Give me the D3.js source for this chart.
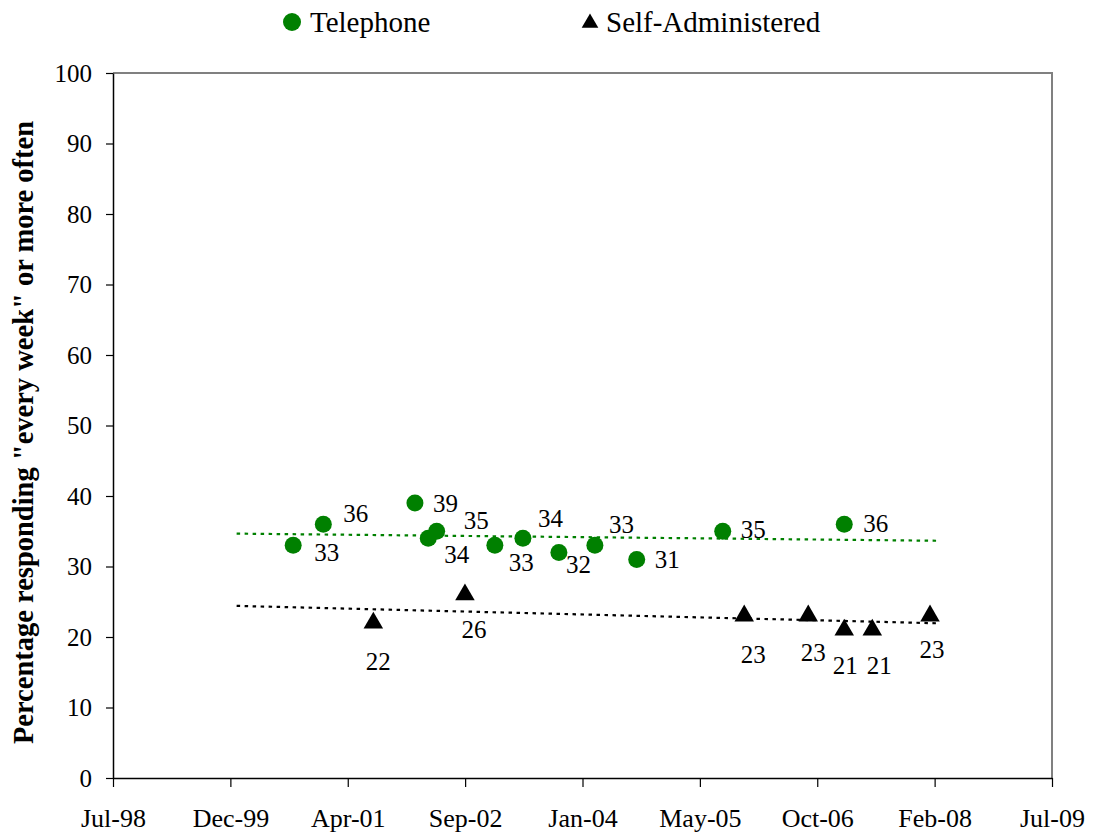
<!DOCTYPE html>
<html>
<head>
<meta charset="utf-8">
<script src="https://cdn.jsdelivr.net/npm/d3@7"></script>
<style>
  html, body { margin: 0; padding: 0; background: #fff; }
  svg { display: block; }
  svg text { font-family: "Liberation Serif", "Times New Roman", Times, "DejaVu Serif", serif !important; fill: #000; }
</style>
</head>
<body>
<svg id="chart" width="1093" height="833"></svg>
<script>
// Survey results: share answering "every week" or more often, by survey mode
const telephoneDates  = ["2000-08-10","2000-12-17","2002-01-13","2002-03-11","2002-04-16","2002-12-21",
                         "2003-04-20","2003-09-21","2004-02-22","2004-08-19","2005-08-22","2007-01-24"];
const telephoneValues = [33, 36, 39, 34, 35, 33, 34, 32, 33, 31, 35, 36];

const selfAdminDates  = ["2001-07-19","2002-08-15","2005-11-22","2006-08-23","2007-01-24","2007-05-24","2008-01-26"];
const selfAdminValues = [22, 26, 23, 23, 21, 21, 23];

// Axis tick labels (evenly spaced date axis) and the extent of the fitted trend lines
const xTickLabels = ["Jul-98","Dec-99","Apr-01","Sep-02","Jan-04","May-05","Oct-06","Feb-08","Jul-09"];
const yTickValues = [0, 10, 20, 30, 40, 50, 60, 70, 80, 90, 100];
const trendRange  = ["1999-12-12", "2008-02-24"];

// Label placement for each point (offset from the marker)
const telephoneLabelOffsets = [[21,16],[20,-2],[18,9],[16,25],[27,-2],[14,26],[15,-11],[7,21],[14,-12],[18,9],[18,7],[19,8]];
const selfAdminLabelOffsets = [[5,47],[9,43],[9,47],[5,45],[1,44],[7,44],[2,42]];

const parse = d3.timeParse("%Y-%m-%d");
const svg = d3.select("#chart");
const serif = '"Liberation Serif", "Times New Roman", Times, "DejaVu Serif", serif';

const plotLeft = 113, plotRight = 1052, plotTop = 73, plotBottom = 778;
const x = d3.scaleTime()
  .domain([new Date(1998, 6, 1), new Date(2009, 6, 1)])
  .range([plotLeft, plotRight]);
const y = d3.scaleLinear().domain([0, 100]).range([plotBottom, plotTop]);

const green = "#008000";

// Plot frame: grey top/right edges
svg.append("path")
  .attr("d", `M${plotLeft},${plotTop}H${plotRight}V${plotBottom}`)
  .attr("fill", "none").attr("stroke", "#808080").attr("stroke-width", 2);

// Y axis
const yAxis = svg.append("g")
  .attr("transform", `translate(${plotLeft},0)`)
  .call(d3.axisLeft(y).tickValues(yTickValues).tickSize(7).tickPadding(14).tickSizeOuter(0))
  .attr("font-family", serif);
yAxis.select(".domain").attr("stroke", "#000").attr("stroke-width", 1.5);
yAxis.selectAll(".tick line").attr("stroke", "#000").attr("stroke-width", 1.2);
yAxis.selectAll(".tick text").style("font-size", "25px").attr("fill", "#000");

// X axis: evenly spaced date ticks
const [d0, d1] = x.domain();
const step = (d1 - d0) / (xTickLabels.length - 1);
const xTicks = xTickLabels.map((_, i) => new Date(+d0 + i * step));
const xAxis = svg.append("g")
  .attr("transform", `translate(0,${plotBottom})`)
  .call(d3.axisBottom(x).tickValues(xTicks).tickSize(9).tickPadding(22).tickSizeOuter(0)
    .tickFormat((d, i) => xTickLabels[i]))
  .attr("font-family", serif);
xAxis.select(".domain").attr("stroke", "#000").attr("stroke-width", 1.5);
xAxis.selectAll(".tick line").attr("stroke", "#000").attr("stroke-width", 1.2);
xAxis.selectAll(".tick text").style("font-size", "26px").attr("fill", "#000");

// Y axis title
svg.append("text")
  .attr("transform", `translate(33,${(plotTop + plotBottom) / 2 + 7}) rotate(-90)`)
  .attr("text-anchor", "middle")
  .style("font-size", "28.5px").style("font-weight", "bold")
  .text('Percentage responding "every week" or more often');

// Least-squares trend line over time for a series
function trend(dates, values) {
  const xs = dates.map(d => +parse(d));
  const n = xs.length;
  const mx = d3.mean(xs), my = d3.mean(values);
  let sxy = 0, sxx = 0;
  for (let i = 0; i < n; i++) { sxy += (xs[i] - mx) * (values[i] - my); sxx += (xs[i] - mx) ** 2; }
  const b = sxy / sxx, a = my - b * mx;
  return trendRange.map(d => { const t = parse(d); return [t, a + b * +t]; });
}
const line = d3.line().x(d => x(d[0])).y(d => y(d[1]));

svg.append("path").datum(trend(telephoneDates, telephoneValues))
  .attr("d", line).attr("fill", "none").attr("stroke", green)
  .attr("stroke-width", 2.2).attr("stroke-dasharray", "3.5,4.5");
svg.append("path").datum(trend(selfAdminDates, selfAdminValues))
  .attr("d", line).attr("fill", "none").attr("stroke", "#000")
  .attr("stroke-width", 2.2).attr("stroke-dasharray", "3.5,4.5");

const tri = d3.symbol().type(d3.symbolTriangle).size(165);

// Telephone markers + labels
const tel = telephoneDates.map((d, i) => ({ date: parse(d), v: telephoneValues[i], off: telephoneLabelOffsets[i] }));
svg.append("g").selectAll("circle").data(tel).join("circle")
  .attr("cx", d => x(d.date)).attr("cy", d => y(d.v)).attr("r", 8.5).attr("fill", green);
svg.append("g").selectAll("text").data(tel).join("text")
  .attr("x", d => x(d.date) + d.off[0]).attr("y", d => y(d.v) + d.off[1])
  .style("font-size", "25px").text(d => d.v);

// Self-administered markers + labels
const sa = selfAdminDates.map((d, i) => ({ date: parse(d), v: selfAdminValues[i], off: selfAdminLabelOffsets[i] }));
svg.append("g").selectAll("path").data(sa).join("path")
  .attr("d", tri).attr("transform", d => `translate(${x(d.date)},${y(d.v)})`).attr("fill", "#000");
svg.append("g").selectAll("text").data(sa).join("text")
  .attr("x", d => x(d.date) + d.off[0]).attr("y", d => y(d.v) + d.off[1])
  .attr("text-anchor", "middle")
  .style("font-size", "25px").text(d => d.v);

// Legend
const legend = svg.append("g");
legend.append("circle").attr("cx", 292).attr("cy", 22).attr("r", 9).attr("fill", green);
legend.append("text").attr("x", 310).attr("y", 32).style("font-size", "29px").text("Telephone");
legend.append("path").attr("d", d3.symbol().type(d3.symbolTriangle).size(120))
  .attr("transform", "translate(590,23)").attr("fill", "#000");
legend.append("text").attr("x", 606).attr("y", 32).style("font-size", "29px").text("Self-Administered");
</script>
</body>
</html>
